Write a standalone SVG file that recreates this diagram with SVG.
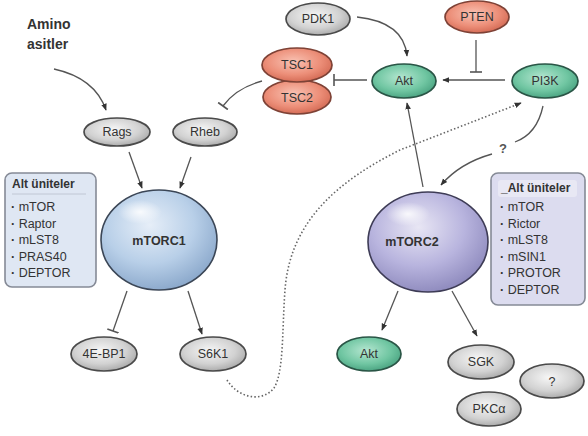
<svg xmlns="http://www.w3.org/2000/svg" width="588" height="436" viewBox="0 0 588 436">
<defs>
<radialGradient id="gGray" cx="0.45" cy="0.4" r="0.65">
<stop offset="0" stop-color="#f6f6f6"/><stop offset="0.6" stop-color="#d2d2d2"/><stop offset="1" stop-color="#a4a4a4"/>
</radialGradient>
<radialGradient id="gRed" cx="0.45" cy="0.4" r="0.65">
<stop offset="0" stop-color="#f9c2b3"/><stop offset="0.6" stop-color="#ec8e78"/><stop offset="1" stop-color="#d0654f"/>
</radialGradient>
<radialGradient id="gGreen" cx="0.45" cy="0.4" r="0.65">
<stop offset="0" stop-color="#b4e6d0"/><stop offset="0.6" stop-color="#70c6a2"/><stop offset="1" stop-color="#449e7c"/>
</radialGradient>
<radialGradient id="gBlue" cx="0.42" cy="0.35" r="0.7">
<stop offset="0" stop-color="#e6eef8"/><stop offset="0.55" stop-color="#b8cfe8"/><stop offset="1" stop-color="#86a4c8"/>
</radialGradient>
<radialGradient id="gPurple" cx="0.42" cy="0.35" r="0.7">
<stop offset="0" stop-color="#e8e6f4"/><stop offset="0.55" stop-color="#b8b4de"/><stop offset="1" stop-color="#8a86ba"/>
</radialGradient>
<radialGradient id="gHi" cx="0.5" cy="0.5" r="0.5">
<stop offset="0" stop-color="#fff" stop-opacity="0.85"/><stop offset="1" stop-color="#fff" stop-opacity="0"/>
</radialGradient>
<marker id="arr" viewBox="0 0 10 10" refX="9" refY="5" markerWidth="7" markerHeight="7" orient="auto" markerUnits="userSpaceOnUse">
<path d="M0,1 L10,5 L0,9 z" fill="#333"/>
</marker>
<marker id="bar" viewBox="0 0 4 12" refX="2" refY="6" markerWidth="4" markerHeight="12" orient="auto" markerUnits="userSpaceOnUse">
<path d="M2,0 V12" stroke="#555" stroke-width="1.6"/>
</marker>
</defs>
<style>
.lbl{font-family:"Liberation Sans",Arial,sans-serif;font-size:12.5px;fill:#333;text-anchor:middle;dominant-baseline:central}
.big{font-family:"Liberation Sans",Arial,sans-serif;font-size:13px;font-weight:bold;fill:#333;text-anchor:middle;dominant-baseline:central}
.gray{fill:url(#gGray);stroke:#4a4a4a;stroke-width:1.7}
.red{fill:url(#gRed);stroke:#7e4236;stroke-width:1.7}
.green{fill:url(#gGreen);stroke:#2a5546;stroke-width:1.7}
.con{fill:none;stroke:#555;stroke-width:1.3}
.dot{fill:none;stroke:#666;stroke-width:1.6;stroke-dasharray:1.5 2.2}
.box-t{font-family:"Liberation Sans",Arial,sans-serif;font-size:12px;font-weight:bold;fill:#333}
.item{font-family:"Liberation Sans",Arial,sans-serif;font-size:12.5px;fill:#333;dominant-baseline:central}
.amino{font-family:"Liberation Sans",Arial,sans-serif;font-size:14px;font-weight:bold;fill:#333}
</style>
<rect width="588" height="436" fill="#fff"/>

<g id="connectors">
<path class="con" d="M54,69 Q95,78 106,110" marker-end="url(#arr)"/>
<path class="con" d="M262,81 Q236,88 223,106" marker-end="url(#bar)"/>
<path class="con" d="M357,17 Q404,22 407,56" marker-end="url(#arr)"/>
<path class="con" d="M476,40 L476,72" marker-end="url(#bar)"/>
<path class="con" d="M505,80 L443,80" marker-end="url(#arr)"/>
<path class="con" d="M367,80 L334,80" marker-end="url(#bar)"/>
<path class="con" d="M423,187 L407,103" marker-end="url(#arr)"/>
<path class="con" d="M543,106 Q537,134 515,142"/>
<path class="con" d="M492,154 Q460,163 441,185" marker-end="url(#arr)"/>
<path class="dot" d="M227,380 C238,398 262,403 274,388 C284,372 282,330 285,290 C290,220 340,180 400,150 L521,103" marker-end="url(#arr)"/>
<path class="con" d="M129,152 L142,188" marker-end="url(#arr)"/>
<path class="con" d="M191,157 L180,188" marker-end="url(#arr)"/>
<path class="con" d="M127,291 L113,331" marker-end="url(#bar)"/>
<path class="con" d="M188,291 L202,334" marker-end="url(#arr)"/>
<path class="con" d="M398,291 L382,330" marker-end="url(#arr)"/>
<path class="con" d="M452,291 L477,336" marker-end="url(#arr)"/>
<text x="503" y="148" class="big" style="fill:#555">?</text>
</g>

<g id="amino"><text class="amino" x="27" y="29">Amino</text><text class="amino" x="27" y="49">asitler</text></g>

<g id="pdk1"><ellipse class="gray" cx="318" cy="19" rx="32" ry="16"/><text class="lbl" x="318" y="19">PDK1</text></g>
<g id="pten"><ellipse class="red" cx="477" cy="17" rx="32" ry="16"/><text class="lbl" x="477" y="17">PTEN</text></g>
<g id="tsc2"><ellipse class="red" cx="297" cy="97" rx="34" ry="17"/><text class="lbl" x="297" y="98">TSC2</text></g>
<g id="tsc1"><ellipse class="red" cx="297" cy="65" rx="35" ry="17"/><text class="lbl" x="297" y="65">TSC1</text></g>
<g id="akt-top"><ellipse class="green" cx="404" cy="81" rx="32" ry="17"/><text class="lbl" x="404" y="81">Akt</text></g>
<g id="pi3k"><ellipse class="green" cx="545" cy="81" rx="33" ry="17"/><text class="lbl" x="545" y="81">PI3K</text></g>
<g id="rags"><ellipse class="gray" cx="117" cy="132" rx="33" ry="14"/><text class="lbl" x="117" y="132">Rags</text></g>
<g id="rheb"><ellipse class="gray" cx="205" cy="132" rx="32" ry="14"/><text class="lbl" x="205" y="132">Rheb</text></g>

<g id="box-mtorc1">
<rect x="5" y="173" width="91" height="114" rx="7" fill="#dfe7f3" stroke="#858a96" stroke-width="1.6"/>
<text class="box-t" x="12" y="188">Alt üniteler</text>
<line x1="12" y1="194" x2="86" y2="194" stroke="#b8c0cc" stroke-width="0.8"/>
<text class="item" x="11" y="207"><tspan font-weight="bold">·</tspan> mTOR</text>
<text class="item" x="11" y="223.5"><tspan font-weight="bold">·</tspan> Raptor</text>
<text class="item" x="11" y="240"><tspan font-weight="bold">·</tspan> mLST8</text>
<text class="item" x="11" y="256.5"><tspan font-weight="bold">·</tspan> PRAS40</text>
<text class="item" x="11" y="273"><tspan font-weight="bold">·</tspan> DEPTOR</text>
</g>

<g id="mtorc1">
<ellipse cx="159" cy="240" rx="58" ry="50" fill="url(#gBlue)" stroke="#3b4656" stroke-width="1.6"/>
<ellipse cx="140" cy="212" rx="22" ry="12" fill="url(#gHi)"/>
<text class="big" x="159" y="241" style="font-size:12.5px">mTORC1</text>
</g>

<g id="mtorc2">
<ellipse cx="428" cy="242" rx="60" ry="50" fill="url(#gPurple)" stroke="#3e3c56" stroke-width="1.6"/>
<ellipse cx="408" cy="214" rx="22" ry="12" fill="url(#gHi)"/>
<text class="big" x="412" y="242" style="font-size:12.5px">mTORC2</text>
</g>

<g id="box-mtorc2">
<rect x="491" y="173" width="94" height="132" rx="7" fill="#dcdcef" stroke="#858a96" stroke-width="1.6"/>
<rect x="498" y="180" width="79" height="17" rx="3" fill="#e8e8f4"/>
<text class="box-t" x="501" y="192">_Alt üniteler</text>
<text class="item" x="500" y="207"><tspan font-weight="bold">·</tspan> mTOR</text>
<text class="item" x="500" y="223.5"><tspan font-weight="bold">·</tspan> Rictor</text>
<text class="item" x="500" y="240"><tspan font-weight="bold">·</tspan> mLST8</text>
<text class="item" x="500" y="256.5"><tspan font-weight="bold">·</tspan> mSIN1</text>
<text class="item" x="500" y="273"><tspan font-weight="bold">·</tspan> PROTOR</text>
<text class="item" x="500" y="289.5"><tspan font-weight="bold">·</tspan> DEPTOR</text>
</g>

<g id="4ebp1"><ellipse class="gray" cx="104" cy="354" rx="33" ry="17"/><text class="lbl" x="104" y="354">4E-BP1</text></g>
<g id="s6k1"><ellipse class="gray" cx="213" cy="354" rx="33" ry="17"/><text class="lbl" x="213" y="354">S6K1</text></g>
<g id="akt-bottom"><ellipse class="green" cx="369" cy="354" rx="32" ry="17"/><text class="lbl" x="369" y="354">Akt</text></g>
<g id="sgk"><ellipse class="gray" cx="481" cy="362" rx="33" ry="17"/><text class="lbl" x="481" y="362">SGK</text></g>
<g id="unknown"><ellipse class="gray" cx="552" cy="381" rx="32" ry="17"/><text class="lbl" x="552" y="382">?</text></g>
<g id="pkca"><ellipse class="gray" cx="489" cy="409" rx="32" ry="17"/><text class="lbl" x="489" y="409">PKCα</text></g>
</svg>
